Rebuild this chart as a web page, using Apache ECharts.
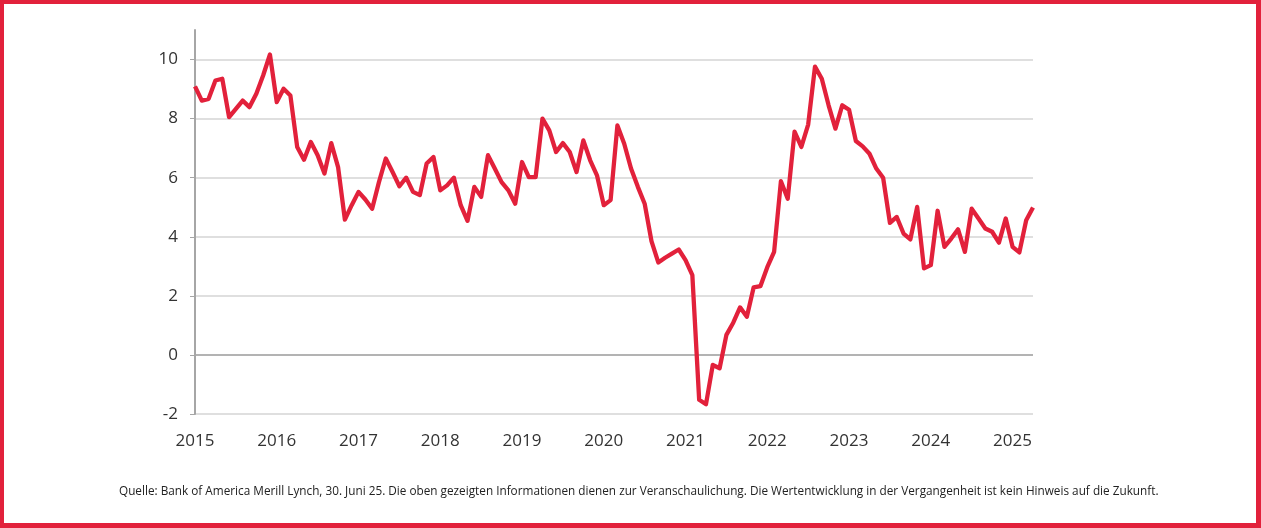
<!DOCTYPE html>
<html>
<head>
<meta charset="utf-8">
<script src="https://cdn.jsdelivr.net/npm/echarts@6/dist/echarts.min.js"></script>
<style>
html,body{margin:0;padding:0;background:#fff;}
#frame{width:1261px;height:528px;box-sizing:border-box;border:4px solid #e2213b;border-right-width:5px;border-bottom-width:5px;position:relative;overflow:hidden;}
#chart{position:absolute;left:-4px;top:-4px;width:1261px;height:528px;}
</style>
</head>
<body>
<div id="frame"><div id="chart"></div></div>
<script>
const years = ['2015','2016','2017','2018','2019','2020','2021','2022','2023','2024','2025'];
const v2015 = [9.09, 8.61, 8.67, 9.29, 9.35, 8.05, 8.33, 8.61, 8.39, 8.84, 9.46, 10.17];
const v2016 = [8.56, 9.01, 8.78, 7.04, 6.61, 7.21, 6.76, 6.14, 7.17, 6.36, 4.58, 5.07];
const v2017 = [5.52, 5.26, 4.95, 5.85, 6.65, 6.19, 5.71, 6.00, 5.52, 5.41, 6.48, 6.70];
const v2018 = [5.57, 5.74, 6.00, 5.07, 4.54, 5.69, 5.35, 6.76, 6.31, 5.85, 5.57, 5.12];
const v2019 = [6.53, 6.02, 6.02, 8.00, 7.60, 6.87, 7.17, 6.87, 6.19, 7.26, 6.59, 6.08];
const v2020 = [5.07, 5.24, 7.77, 7.15, 6.31, 5.69, 5.12, 3.85, 3.13, 3.29, 3.43, 3.57];
const v2021 = [3.21, 2.70, -1.52, -1.67, -0.34, -0.45, 0.68, 1.09, 1.61, 1.29, 2.29, 2.33];
const v2022 = [2.97, 3.49, 5.88, 5.29, 7.56, 7.04, 7.80, 9.76, 9.35, 8.45, 7.66, 8.45];
const v2023 = [8.30, 7.24, 7.06, 6.81, 6.31, 6.00, 4.47, 4.67, 4.11, 3.91, 5.01, 2.93];
const v2024 = [3.04, 4.88, 3.66, 3.94, 4.25, 3.49, 4.95, 4.62, 4.28, 4.17, 3.80, 4.62];
const v2025 = [3.66, 3.47, 4.56, 4.99];
const yTicks = [-2, 0, 2, 4, 6, 8, 10];
const sourceText = 'Quelle: Bank of America Merill Lynch, 30. Juni 25. Die oben gezeigten Informationen dienen zur Veranschaulichung. Die Wertentwicklung in der Vergangenheit ist kein Hinweis auf die Zukunft.';

const byYear = [v2015, v2016, v2017, v2018, v2019, v2020, v2021, v2022, v2023, v2024, v2025];
const categories = [];
const values = [];
byYear.forEach((arr, yi) => {
  arr.forEach((v, mi) => {
    categories.push(years[yi] + '-' + String(mi + 1).padStart(2, '0'));
    values.push(v);
  });
});

const chart = echarts.init(document.getElementById('chart'), null, {renderer: 'canvas'});
chart.setOption({
  animation: false,
  backgroundColor: 'transparent',
  textStyle: {fontFamily: '"Open Sans", sans-serif'},
  title: {
    text: sourceText,
    left: 114,
    top: 481,
    textStyle: {fontSize: 11.78, fontWeight: 'normal', color: '#222', fontFamily: '"Open Sans", sans-serif'}
  },
  grid: {left: 195, right: 228, top: 30, bottom: 114, containLabel: false},
  xAxis: {
    type: 'category',
    data: categories,
    boundaryGap: false,
    axisLine: {show: false, onZero: false},
    axisTick: {show: false},
    splitLine: {show: false},
    axisLabel: {
      interval: (i) => i % 12 === 0,
      formatter: (v) => v.slice(0, 4),
      color: '#333',
      fontSize: 17,
      margin: 19,
      fontFamily: '"Open Sans", sans-serif'
    }
  },
  yAxis: {
    type: 'value',
    min: -2,
    max: 11,
    interval: 2,
    axisLine: {show: true, lineStyle: {color: '#a6a6a6', width: 2}},
    axisTick: {show: true, length: 5, customValues: yTicks, lineStyle: {color: '#a6a6a6', width: 1}},
    axisLabel: {
      customValues: yTicks,
      color: '#333',
      fontSize: 17,
      margin: 17,
      fontFamily: '"Open Sans", sans-serif'
    },
    splitLine: {
      show: true,
      lineStyle: {color: ['#d4d4d4', '#9a9a9a', '#d4d4d4', '#d4d4d4', '#d4d4d4', '#d4d4d4', '#d4d4d4'], width: 1.5}
    }
  },
  series: [{
    type: 'line',
    data: values,
    symbol: 'none',
    smooth: false,
    lineStyle: {color: '#e2213b', width: 4.3, join: 'round'},
    z: 3
  }]
});
</script>
</body>
</html>
